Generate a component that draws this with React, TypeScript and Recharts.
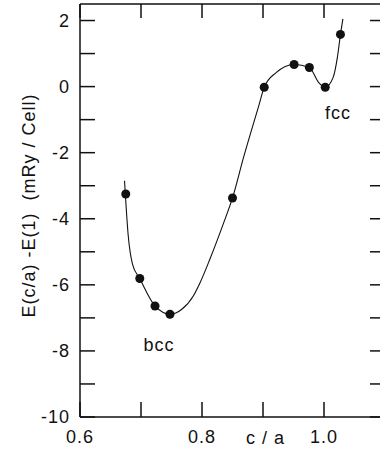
import {
  ComposedChart, Line, Scatter, XAxis, YAxis, ReferenceDot, Label,
} from 'recharts'

// ─── Data ─────────────────────────────────────────────────────────────────────

// calculated points
const cOverA = [0.675, 0.698, 0.723, 0.7475, 0.85, 0.902, 0.951, 0.976, 1.002, 1.027]
const energy = [-3.25, -5.81, -6.64, -6.89, -3.37, -0.02, 0.67, 0.58, -0.02, 1.58]

// fitted curve
const curveCOverA = [
  0.673, 0.679, 0.686, 0.698, 0.723, 0.7475, 0.767, 0.786, 0.797, 0.813, 0.834,
  0.85, 0.868, 0.894, 0.902, 0.922, 0.951, 0.976, 0.991, 1.002, 1.015, 1.022, 1.027, 1.031,
]
const curveEnergy = [
  -2.85, -4.5, -5.37, -5.81, -6.64, -6.89, -6.74, -6.33, -5.93, -5.22, -4.2,
  -3.37, -2.15, -0.52, -0.02, 0.43, 0.67, 0.58, 0.13, -0.02, 0.28, 0.89, 1.58, 2.05,
]

const xTicks = [0.6, 0.7, 0.8, 0.9, 1.0, 1.1]
const xLabeled = [0.6, 0.8, 1.0]
const yTicks = [-10, -9, -8, -7, -6, -5, -4, -3, -2, -1, 0, 1, 2]
const yLabeled = [-10, -8, -6, -4, -2, 0, 2]

const phaseNames = ['bcc', 'fcc']
const phaseCOverA = [0.7295, 1.023]
const phaseEnergy = [-7.8, -0.8]

// ─── Helpers ──────────────────────────────────────────────────────────────────

const INK = '#111'
const FONT = '"Liberation Sans", Arial, Helvetica, sans-serif'
const tickStyle = { fontSize: 18, fill: INK, fontFamily: FONT, letterSpacing: 1 }
const lineStyle = { stroke: INK, strokeWidth: 1.5 }
const TICK_LEN = 15

const points = cOverA.map((x, i) => ({ x, y: energy[i] }))
const curve = curveCOverA.map((x, i) => ({ x, y: curveEnergy[i] }))

const fmtX = (v: number) => (xLabeled.some((t) => Math.abs(t - v) < 1e-6) ? v.toFixed(1) : '')
const fmtY = (v: number) => (yLabeled.includes(v) ? String(v) : '')

// x ticks point into the plot, so draw the tick line together with the label
function BottomTick({ x, y, payload }: any) {
  return (
    <g>
      <line x1={x} x2={x} y1={y} y2={y - TICK_LEN} {...lineStyle} />
      <text x={x} y={y + 26} textAnchor="middle" style={tickStyle}>{fmtX(payload.value)}</text>
    </g>
  )
}

function TopTick({ x, y }: any) {
  return <line x1={x} x2={x} y1={y} y2={y + TICK_LEN - 1} {...lineStyle} />
}

function YTitle(props: any) {
  const vb = props.viewBox ?? { x: 0, y: 4, width: 80, height: 413 }
  const cx = vb.x + 35
  const cy = vb.y + vb.height / 2 - 5
  return (
    <text
      transform={`translate(${cx},${cy}) rotate(-90)`}
      textAnchor="middle"
      style={{ fontSize: 18, fill: INK, fontFamily: FONT, letterSpacing: 1, whiteSpace: 'pre' }}
    >
      {'E(c/a) -E(1)  (mRy / Cell)'}
    </text>
  )
}

// ─── Chart ────────────────────────────────────────────────────────────────────

export default function App() {
  return (
    <div style={{ position: 'absolute', left: 0, top: 0, width: 380, height: 450, overflow: 'hidden', background: '#fff' }}>
      <ComposedChart width={400} height={450} margin={{ top: 3, right: 0, bottom: 0, left: 0 }}>
        <XAxis
          xAxisId="b"
          dataKey="x"
          type="number"
          domain={[0.6, 1.1]}
          ticks={xTicks}
          interval={0}
          orientation="bottom"
          height={33}
          tickSize={0}
          tickMargin={0}
          tick={<BottomTick />}
          tickLine={false}
          axisLine={lineStyle}
          allowDataOverflow
        >
          <Label
            value="c / a"
            position="insideBottom"
            offset={6}
            dx={33}
            style={{ fontSize: 18, fill: INK, fontFamily: FONT, letterSpacing: 1 }}
          />
        </XAxis>
        <XAxis
          xAxisId="t"
          dataKey="x"
          type="number"
          domain={[0.6, 1.1]}
          ticks={xTicks}
          interval={0}
          orientation="top"
          height={1}
          tickSize={0}
          tickMargin={0}
          tick={<TopTick />}
          tickLine={false}
          axisLine={lineStyle}
          allowDataOverflow
        />
        <YAxis
          yAxisId="l"
          type="number"
          domain={[-10, 2.5]}
          ticks={yTicks}
          interval={0}
          tickFormatter={fmtY}
          width={80}
          tickSize={-TICK_LEN}
          tickMargin={25}
          tick={tickStyle}
          axisLine={lineStyle}
          tickLine={lineStyle}
          allowDataOverflow
        >
          <Label content={<YTitle />} />
        </YAxis>
        <YAxis
          yAxisId="r"
          orientation="right"
          type="number"
          domain={[-10, 2.5]}
          ticks={yTicks}
          interval={0}
          tickFormatter={() => ''}
          width={15}
          tickSize={-TICK_LEN}
          axisLine={lineStyle}
          tickLine={lineStyle}
          allowDataOverflow
        />

        <Line
          xAxisId="b"
          yAxisId="l"
          data={curve}
          dataKey="y"
          type="monotone"
          stroke={INK}
          strokeWidth={1.1}
          dot={false}
          activeDot={false}
          isAnimationActive={false}
        />
        <Line
          xAxisId="t"
          yAxisId="r"
          data={curve}
          dataKey="y"
          stroke="none"
          dot={false}
          activeDot={false}
          isAnimationActive={false}
        />
        <Scatter
          xAxisId="b"
          yAxisId="l"
          data={points}
          dataKey="y"
          fill={INK}
          isAnimationActive={false}
        />

        {phaseNames.map((name, i) => (
          <ReferenceDot
            key={name}
            xAxisId="b"
            yAxisId="l"
            x={phaseCOverA[i]}
            y={phaseEnergy[i]}
            r={0}
            fill="none"
            stroke="none"
            label={{ value: name, position: 'center', style: tickStyle }}
          />
        ))}
      </ComposedChart>
    </div>
  )
}
